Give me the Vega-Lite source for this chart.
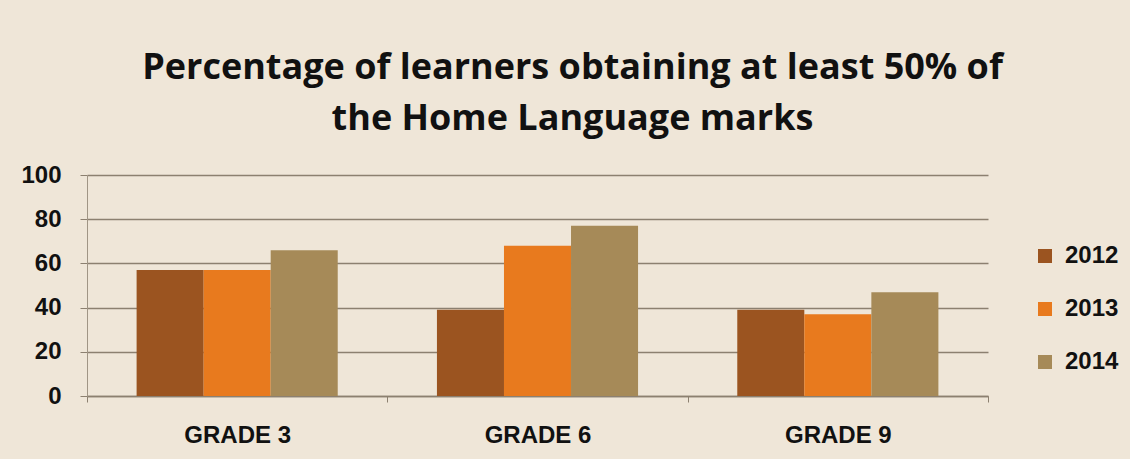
{
  "$schema": "https://vega.github.io/schema/vega-lite/v6.json",
  "width": 901,
  "height": 221,
  "autosize": {"type": "none"},
  "padding": {"left": 87, "top": 175, "right": 142, "bottom": 63},
  "background": "#efe6d8",
  "title": {
    "text": ["Percentage of learners obtaining at least 50% of", "the Home Language marks"],
    "font": "Open Sans",
    "fontSize": 36,
    "fontWeight": "bold",
    "color": "#111111",
    "anchor": "middle",
    "frame": "group",
    "dx": 35,
    "baseline": "alphabetic",
    "offset": -3,
    "lineHeight": 51
  },
  "config": {
    "view": {"stroke": null},
    "axis": {
      "labelFont": "Liberation Sans",
      "labelFontWeight": "bold",
      "labelColor": "#111111"
    },
    "legend": {
      "labelFont": "Liberation Sans",
      "labelFontWeight": "bold",
      "labelColor": "#111111"
    }
  },
  "data": {
    "values": [
      {"grade": "GRADE 3", "year": "2012", "value": 57},
      {"grade": "GRADE 3", "year": "2013", "value": 57},
      {"grade": "GRADE 3", "year": "2014", "value": 66},
      {"grade": "GRADE 6", "year": "2012", "value": 39},
      {"grade": "GRADE 6", "year": "2013", "value": 68},
      {"grade": "GRADE 6", "year": "2014", "value": 77},
      {"grade": "GRADE 9", "year": "2012", "value": 39},
      {"grade": "GRADE 9", "year": "2013", "value": 37},
      {"grade": "GRADE 9", "year": "2014", "value": 47}
    ]
  },
  "mark": {"type": "bar"},
  "encoding": {
    "x": {
      "field": "grade",
      "type": "nominal",
      "sort": ["GRADE 3", "GRADE 6", "GRADE 9"],
      "scale": {"paddingInner": 0, "paddingOuter": 0},
      "axis": {
        "title": null,
        "labelAngle": 0,
        "labelFontSize": 24,
        "tickBand": "extent",
        "ticks": true,
        "tickSize": 6,
        "tickColor": "#8c8070",
        "domainColor": "#8c8070",
        "domainWidth": 1.5,
        "labelPadding": 21
      }
    },
    "xOffset": {
      "field": "year",
      "type": "nominal",
      "scale": {"paddingOuter": 0.74, "paddingInner": 0}
    },
    "y": {
      "field": "value",
      "type": "quantitative",
      "scale": {"domain": [0, 100]},
      "axis": {
        "title": null,
        "values": [0, 20, 40, 60, 80, 100],
        "labelFontSize": 24,
        "tickSize": 7,
        "tickColor": "#8c8070",
        "domainColor": "#a09585",
        "gridColor": "#8c8070",
        "gridWidth": 1.5,
        "labelPadding": 19
      }
    },
    "color": {
      "field": "year",
      "type": "nominal",
      "scale": {"domain": ["2012", "2013", "2014"], "range": ["#9b5420", "#e87a1e", "#a68a58"]},
      "legend": {
        "title": null,
        "orient": "none",
        "legendX": 946,
        "legendY": 69,
        "symbolType": "square",
        "symbolSize": 196,
        "symbolStrokeWidth": 0,
        "labelFontSize": 24,
        "labelOffset": 8,
        "rowPadding": 29,
        "padding": 0
      }
    }
  }
}
